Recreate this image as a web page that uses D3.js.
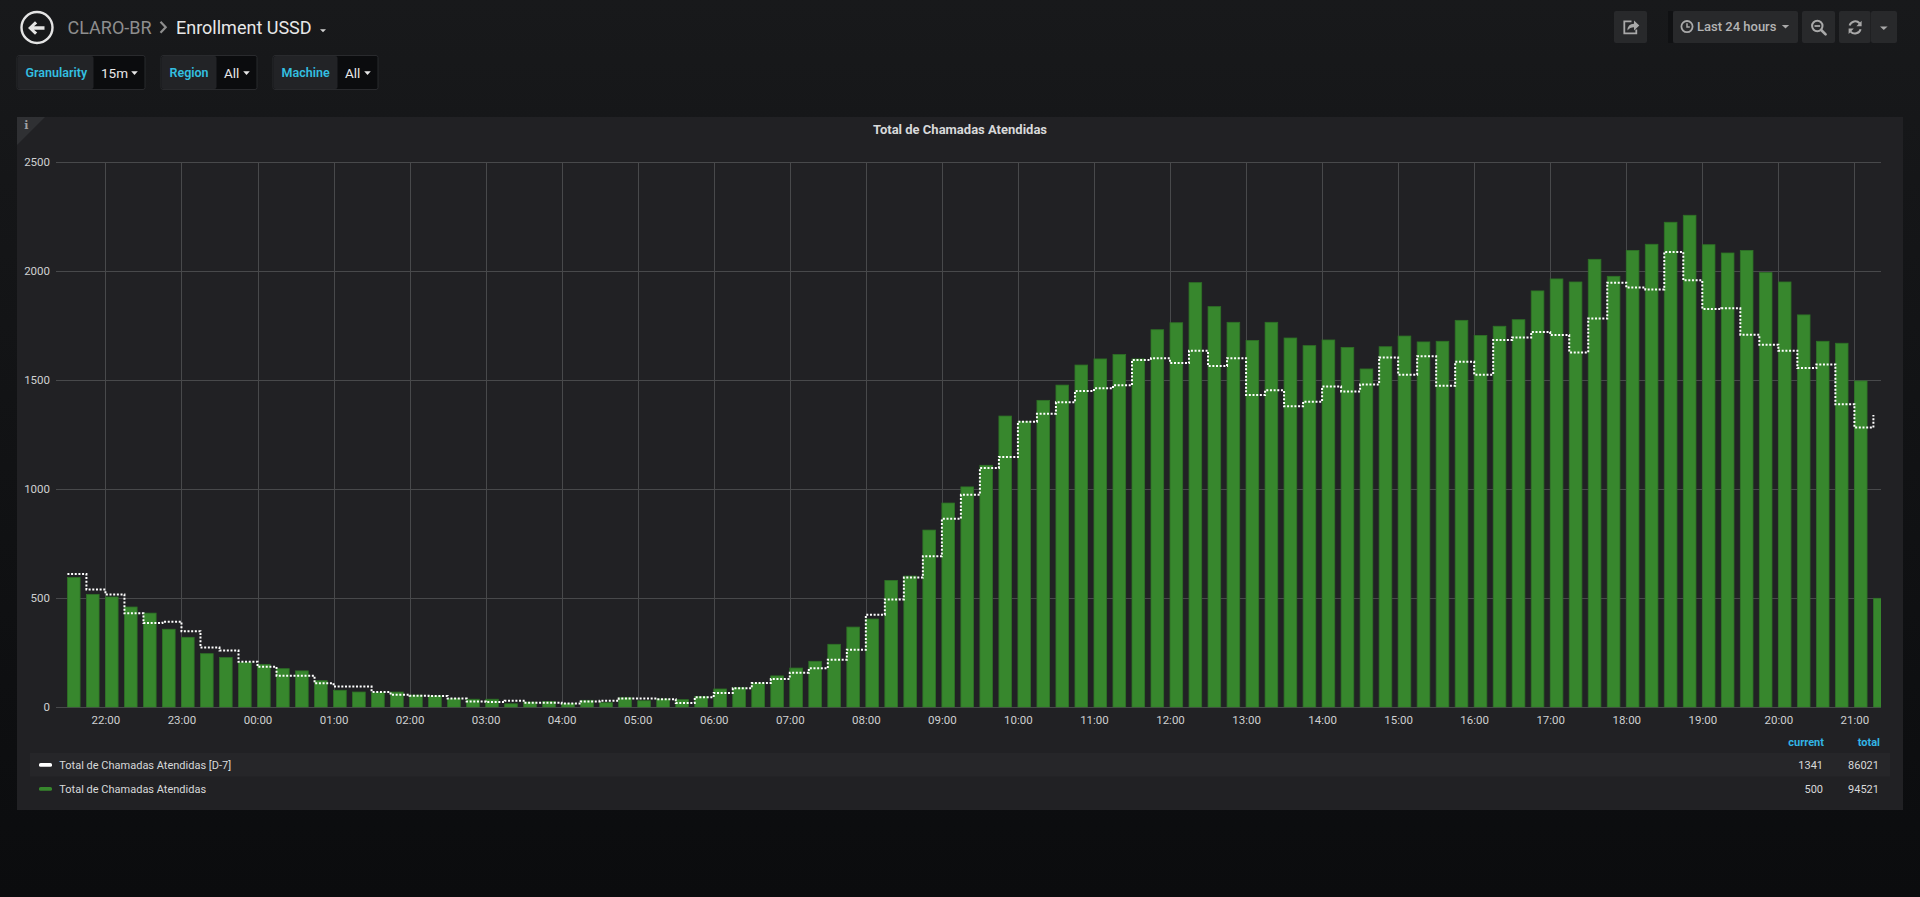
<!DOCTYPE html>
<html><head><meta charset="utf-8">
<script src="https://cdn.jsdelivr.net/npm/d3@7"></script>
<style>
html,body{margin:0;padding:0;width:1920px;height:897px;overflow:hidden;background:#161719;font-family:Roboto,"Noto Sans",sans-serif;}
svg{display:block}
</style></head><body>
<svg id="c" width="1920" height="897"></svg>
<script>
// ---------- data ----------
const timeLabels = [
"21:30","21:45",
"22:00","22:15","22:30","22:45","23:00","23:15","23:30","23:45",
"00:00","00:15","00:30","00:45","01:00","01:15","01:30","01:45",
"02:00","02:15","02:30","02:45","03:00","03:15","03:30","03:45",
"04:00","04:15","04:30","04:45","05:00","05:15","05:30","05:45",
"06:00","06:15","06:30","06:45","07:00","07:15","07:30","07:45",
"08:00","08:15","08:30","08:45","09:00","09:15","09:30","09:45",
"10:00","10:15","10:30","10:45","11:00","11:15","11:30","11:45",
"12:00","12:15","12:30","12:45","13:00","13:15","13:30","13:45",
"14:00","14:15","14:30","14:45","15:00","15:15","15:30","15:45",
"16:00","16:15","16:30","16:45","17:00","17:15","17:30","17:45",
"18:00","18:15","18:30","18:45","19:00","19:15","19:30","19:45",
"20:00","20:15","20:30","20:45","21:00","21:15"];
const currentValues = [
595,518,506,460,432,358,321,246,228,205,
197,177,167,122,78,70,67,70,56,52,
40,37,37,16,24,27,17,32,21,44,
30,38,35,50,84,90,111,144,180,211,
289,368,405,582,602,813,937,1011,1110,1336,
1312,1408,1478,1570,1598,1618,1598,1732,1764,1948,
1838,1766,1683,1766,1694,1659,1685,1651,1552,1654,
1703,1676,1679,1775,1706,1748,1778,1910,1965,1951,
2055,1977,2096,2124,2225,2257,2122,2084,2096,1994,
1951,1800,1679,1670,1497,500];
const d7Values = [
611,540,518,431,387,393,349,274,260,209,
186,145,145,110,95,95,70,58,53,52,
40,27,24,30,21,21,17,27,30,40,
40,37,20,46,66,87,111,130,159,179,
218,264,425,495,595,693,865,975,1098,1148,
1310,1347,1399,1451,1463,1477,1593,1601,1579,1636,
1566,1601,1433,1454,1381,1402,1471,1449,1481,1605,
1526,1610,1475,1585,1526,1685,1696,1722,1708,1628,
1783,1948,1926,1917,2089,1959,1827,1830,1709,1663,
1636,1556,1573,1390,1283,1341];
const yTickValues = [0,500,1000,1500,2000,2500];
const seriesNames = ["Total de Chamadas Atendidas [D-7]","Total de Chamadas Atendidas"];
const legendHeaders = ["current","total"];
const legendCurrent = ["1341","500"];
const legendTotal = ["86021","94521"];
const rangeStart = "2018-05-01 21:21", rangeEnd = "2018-05-02 21:21";
const startDay = "2018-05-01";
const panelTitle = "Total de Chamadas Atendidas";
const variables = [["Granularity","15m"],["Region","All"],["Machine","All"]];

// ---------- setup ----------
const svg = d3.select("#c");
const defs = svg.append("defs");
const bg = defs.append("linearGradient").attr("id","bg").attr("x1",0).attr("y1",0).attr("x2",0).attr("y2",1);
bg.append("stop").attr("offset","0%").attr("stop-color","#18191b");
bg.append("stop").attr("offset","20%").attr("stop-color","#151618");
bg.append("stop").attr("offset","100%").attr("stop-color","#0b0c0e");
svg.append("rect").attr("width",1920).attr("height",897).attr("fill","url(#bg)");

const FONT = "Roboto, 'Noto Sans', sans-serif";

// ---------- header ----------
const hdr = svg.append("g");
hdr.append("circle").attr("cx",37).attr("cy",27.5).attr("r",15.5).attr("fill","none").attr("stroke","#e4e4e4").attr("stroke-width",2.4);
hdr.append("path").attr("d","M28,28 L35,21.3 L37.2,23.5 L34,26.3 L44.5,26.3 L44.5,29.7 L34,29.7 L37.2,32.5 L35,34.7 Z").attr("fill","#e4e4e4");
hdr.append("text").attr("x",67.5).attr("y",33.5).attr("font-size",18).attr("fill","#8e8e8e").attr("font-family",FONT).text("CLARO-BR");
hdr.append("path").attr("d","M160.5,21.8 L165.7,27.3 L160.5,32.8").attr("fill","none").attr("stroke","#8e8e8e").attr("stroke-width",2.2);
hdr.append("text").attr("x",176).attr("y",33.5).attr("font-size",18).attr("fill","#e8e8e8").attr("font-family",FONT).text("Enrollment USSD");
hdr.append("path").attr("d","M320,29.3 L326,29.3 L323,32.3 Z").attr("fill","#d0d0d0");

// variables
const varBoxes = [[17,93,145],[161,216,257],[273,337,378]];
variables.forEach((v,i)=>{
  const [x0,x1,x2] = varBoxes[i];
  const g = svg.append("g");
  g.append("rect").attr("x",x0).attr("y",55.5).attr("width",x2-x0).attr("height",34).attr("rx",2).attr("fill","#0b0c0e").attr("stroke","#292a2d").attr("stroke-width",1);
  g.append("rect").attr("x",x0+0.5).attr("y",56).attr("width",x1-x0).attr("height",33).attr("rx",2).attr("fill","#222326");
  g.append("text").attr("x",x0+8.5).attr("y",77.2).attr("font-size",12.5).attr("font-weight",600).attr("fill","#33bfe0").attr("font-family",FONT).text(v[0]);
  g.append("text").attr("x",x1+8).attr("y",77.5).attr("font-size",13.5).attr("fill","#e8e8e8").attr("font-family",FONT).text(v[1]);
  const cx = x2-10.5;
  g.append("path").attr("d",`M${cx-3.3},71.3 L${cx+3.3},71.3 L${cx},75 Z`).attr("fill","#e8e8e8");
});

// top right buttons
const btnFill = "#28292b", icoCol = "#a9a9a9";
const tb = svg.append("g");
tb.append("rect").attr("x",1614).attr("y",11).attr("width",33).attr("height",32).attr("rx",2).attr("fill",btnFill);
tb.append("path").attr("d","M1631.5,21.3 H1624.3 V33.3 H1636.3 V29.5").attr("fill","none").attr("stroke",icoCol).attr("stroke-width",1.8);
tb.append("path").attr("d","M1627.5,30.5 Q1627.5,23.8 1634,23.8 V20.6 L1639.3,25.5 L1634,30.4 V27.2 Q1630,27.2 1627.5,30.5 Z").attr("fill",icoCol);
tb.append("rect").attr("x",1668).attr("y",11).attr("width",5).attr("height",32).attr("fill","#101113");
tb.append("rect").attr("x",1673).attr("y",11).attr("width",125).attr("height",32).attr("rx",2).attr("fill",btnFill);
tb.append("circle").attr("cx",1687).attr("cy",26.6).attr("r",5.6).attr("fill","none").attr("stroke",icoCol).attr("stroke-width",1.8);
tb.append("path").attr("d","M1687,23.3 V27 H1689.8").attr("fill","none").attr("stroke",icoCol).attr("stroke-width",1.5);
tb.append("text").attr("x",1697).attr("y",31.3).attr("font-size",13).attr("font-weight",500).attr("fill","#b4b4b4").attr("font-family",FONT).text("Last 24 hours");
tb.append("path").attr("d","M1781.8,25 L1789.2,25 L1785.5,28.6 Z").attr("fill",icoCol);
tb.append("rect").attr("x",1802).attr("y",11).attr("width",33).attr("height",32).attr("rx",2).attr("fill",btnFill);
tb.append("circle").attr("cx",1817.3).attr("cy",26).attr("r",5.2).attr("fill","none").attr("stroke",icoCol).attr("stroke-width",2);
tb.append("path").attr("d","M1814.5,26 H1820.1").attr("stroke",icoCol).attr("stroke-width",1.8);
tb.append("path").attr("d","M1821.2,30 L1825.6,34.4").attr("stroke",icoCol).attr("stroke-width",2.6).attr("stroke-linecap","round");
tb.append("rect").attr("x",1839).attr("y",11).attr("width",31.5).attr("height",32).attr("rx",2).attr("fill",btnFill);
tb.append("rect").attr("x",1871).attr("y",11).attr("width",26).attr("height",32).attr("rx",2).attr("fill",btnFill);
tb.append("path").attr("d","M1849.6,25.5 A5.9,5.9 0 0 1 1859.6,23.2").attr("fill","none").attr("stroke",icoCol).attr("stroke-width",2);
tb.append("path").attr("d","M1861.6,20.8 L1861.6,26.2 L1856.4,26.2 Z").attr("fill",icoCol);
tb.append("path").attr("d","M1860.6,29.2 A5.9,5.9 0 0 1 1850.6,31.6").attr("fill","none").attr("stroke",icoCol).attr("stroke-width",2);
tb.append("path").attr("d","M1848.6,34 L1848.6,28.6 L1853.8,28.6 Z").attr("fill",icoCol);
tb.append("path").attr("d","M1880,26.4 L1887.6,26.4 L1883.8,30 Z").attr("fill",icoCol);

// ---------- panel ----------
const P = {x:17, y:117, w:1886, h:693};
svg.append("rect").attr("x",P.x).attr("y",P.y).attr("width",P.w).attr("height",P.h).attr("fill","#212124");
svg.append("path").attr("d",`M${P.x},${P.y} L${P.x+28},${P.y} L${P.x},${P.y+28} Z`).attr("fill","#2f3033");
svg.append("text").attr("x",24.3).attr("y",129).attr("font-size",11).attr("font-weight","bold").attr("fill","#9fa0a2").attr("font-family","'DejaVu Serif', serif").text("i");
svg.append("text").attr("x",960).attr("y",134).attr("text-anchor","middle").attr("font-size",13).attr("font-weight","bold").attr("fill","#d8d9da").attr("font-family",FONT).text(panelTitle);

// scales
const parse = d3.timeParse("%Y-%m-%d %H:%M");
const L = 56, R = 1881, T = 162.3, B = 707.3;
const x = d3.scaleTime().domain([parse(rangeStart), parse(rangeEnd)]).range([L,R]);
const y = d3.scaleLinear().domain([0,2500]).range([B,T]);

let day = parse(startDay+" 00:00"), prevMin = -1;
const times = timeLabels.map(s=>{
  const [h,m] = s.split(":").map(Number);
  const mins = h*60+m;
  if (prevMin>=0 && mins<prevMin) day = d3.timeDay.offset(day,1);
  prevMin = mins;
  return d3.timeMinute.offset(day, mins);
});
const step = 15, barW = step/1.5; // minutes

// grid + axes
const gridCol = "#48494b", tickCol = "#cfd0d1";
const yAx = svg.append("g").attr("transform",`translate(${L},0)`)
  .call(d3.axisLeft(y).tickValues(yTickValues).tickSize(-(R-L)).tickPadding(6).tickFormat(d3.format("d")));
yAx.select(".domain").remove();
yAx.selectAll("line").attr("stroke",gridCol).attr("shape-rendering","crispEdges");
yAx.selectAll("text").attr("fill",tickCol).attr("font-size",11.5).attr("font-family",FONT);

const xAx = svg.append("g").attr("transform",`translate(0,${B})`)
  .call(d3.axisBottom(x).ticks(d3.timeHour.every(1)).tickSize(-(B-T)).tickPadding(8.5).tickFormat(d3.timeFormat("%H:%M")));
xAx.select(".domain").remove();
xAx.selectAll("line").attr("stroke",gridCol).attr("shape-rendering","crispEdges");
xAx.selectAll("text").attr("fill",tickCol).attr("font-size",11.5).attr("font-family",FONT);

defs.append("clipPath").attr("id","plot").append("rect").attr("x",L).attr("y",T-20).attr("width",R-L).attr("height",B-T+20);
const plot = svg.append("g").attr("clip-path","url(#plot)");

plot.selectAll("rect.bar").data(currentValues).join("rect").attr("class","bar")
  .attr("x",(d,i)=>x(times[i]))
  .attr("width",(d,i)=>x(d3.timeMinute.offset(times[i],barW))-x(times[i]))
  .attr("y",d=>y(d)).attr("height",d=>B-y(d))
  .attr("fill","#37872d").attr("stroke","#2e7126").attr("stroke-width",0.8);

const line = d3.line().x((d,i)=>x(times[i])).y(d=>y(d)).curve(d3.curveStepAfter);
plot.append("path").datum(d7Values).attr("d",line).attr("fill","none")
  .attr("stroke","#ffffff").attr("stroke-width",2).attr("stroke-dasharray","2,1.67");

// ---------- legend ----------
const lg = svg.append("g").attr("font-family",FONT);
lg.append("text").attr("x",1824).attr("y",746).attr("text-anchor","end").attr("font-size",11).attr("font-weight","bold").attr("fill","#33b5e5").text(legendHeaders[0]);
lg.append("text").attr("x",1880).attr("y",746).attr("text-anchor","end").attr("font-size",11).attr("font-weight","bold").attr("fill","#33b5e5").text(legendHeaders[1]);
lg.append("rect").attr("x",30).attr("y",753).attr("width",1860).attr("height",23.7).attr("fill","#262629");
const rowY = [764.8, 788.8], rowCol = ["#ffffff","#37872d"];
seriesNames.forEach((n,i)=>{
  lg.append("rect").attr("x",39).attr("y",rowY[i]-1.8).attr("width",13).attr("height",3.8).attr("rx",1.6).attr("fill",rowCol[i]);
  lg.append("text").attr("x",59.3).attr("y",rowY[i]+4).attr("font-size",11).attr("fill","#d8d9da").text(n);
  lg.append("text").attr("x",1823).attr("y",rowY[i]+4).attr("text-anchor","end").attr("font-size",11).attr("fill","#d8d9da").text(legendCurrent[i]);
  lg.append("text").attr("x",1879).attr("y",rowY[i]+4).attr("text-anchor","end").attr("font-size",11).attr("fill","#d8d9da").text(legendTotal[i]);
});
</script>
</body></html>
